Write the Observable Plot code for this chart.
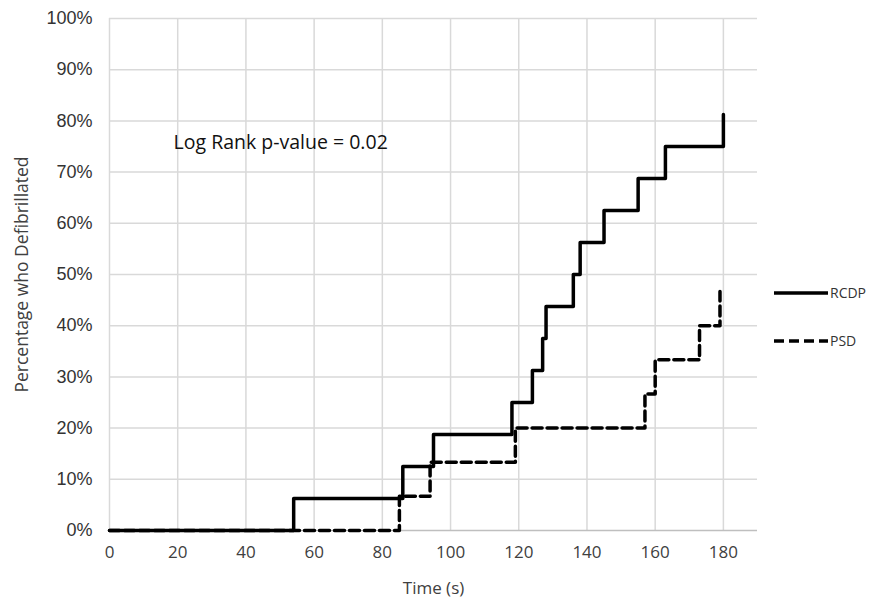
<!DOCTYPE html>
<html><head><meta charset="utf-8">
<script src="https://cdn.jsdelivr.net/npm/d3@7"></script>
<script src="https://cdn.jsdelivr.net/npm/@observablehq/plot@0.6"></script>
<style>
body{margin:0;background:#fff;}
#wrap{position:relative;width:875px;height:604px;overflow:hidden;}
#legend{position:absolute;left:773px;top:283px;font-family:"Open Sans",sans-serif;font-size:14px;color:#333;}
.row{display:flex;align-items:center;height:20px;margin-bottom:28px;}
.row svg{display:block;}
.row span{margin-left:1px;line-height:20px;}
</style></head><body><div id="wrap"><div id="chart"></div><div id="legend"></div></div>
<script>
const xTicks = [0, 20, 40, 60, 80, 100, 120, 140, 160, 180];
const yTicks = [0, 10, 20, 30, 40, 50, 60, 70, 80, 90, 100];
const seriesNames = ["RCDP", "PSD"];
const rcdpTime = [0, 54, 86, 95, 118, 124, 127, 128, 136, 138, 145, 155, 163, 180];
const rcdpPct  = [0, 6.25, 12.5, 18.75, 25, 31.25, 37.5, 43.75, 50, 56.25, 62.5, 68.75, 75, 81.25];
const psdTime  = [0, 85, 94, 119, 157, 160, 173, 179];
const psdPct   = [0, 6.67, 13.33, 20, 26.67, 33.33, 40, 46.67];
const annotation = "Log Rank p-value = 0.02";

const rcdp = rcdpTime.map((t, i) => ({t, p: rcdpPct[i], s: seriesNames[0]}));
const psd = psdTime.map((t, i) => ({t, p: psdPct[i], s: seriesNames[1]}));
const dash = "10,5";

const chart = Plot.plot({
  width: 875, height: 604,
  marginLeft: 109, marginRight: 118, marginTop: 18, marginBottom: 74,
  style: {fontFamily: "Open Sans", fontSize: "15px", color: "#404040", background: "#fff"},
  x: {domain: [0, 190]},
  y: {domain: [0, 100]},
  marks: [
    Plot.ruleX(xTicks, {stroke: "#d9d9d9", strokeWidth: 1.5}),
    Plot.ruleY(yTicks.filter(d => d > 0), {stroke: "#d9d9d9", strokeWidth: 1.5}),
    Plot.ruleY([0], {stroke: "#bfbfbf", strokeWidth: 1.5}),
    Plot.axisX({ticks: xTicks, tickSize: 0, tickPadding: 15, fontSize: 17, fill: "#404040",
      label: "Time (s)", labelAnchor: "center", labelArrow: "none", labelOffset: 63}),
    Plot.axisY({ticks: yTicks, tickSize: 0, tickPadding: 17, tickFormat: d => d + "%",
      fontSize: 18, fontFamily: "Liberation Sans", fill: "#333", label: null}),
    Plot.axisY({ticks: [], tickSize: 0, fontSize: 17.5, fill: "#404040",
      label: "Percentage who Defibrillated", labelAnchor: "center", labelArrow: "none", labelOffset: 94}),
    Plot.line(psd, {x: "t", y: "p", curve: "step-after", stroke: "#000", strokeWidth: 3.5, strokeDasharray: dash}),
    Plot.line(rcdp, {x: "t", y: "p", curve: "step-after", stroke: "#000", strokeWidth: 3.5}),
    Plot.text([annotation], {x: 18.8, y: 75.8, text: d => d, textAnchor: "start", fontSize: 19.5, fill: "#111"})
  ]
});
document.getElementById("chart").appendChild(chart);

const legend = document.getElementById("legend");
seriesNames.forEach((name, i) => {
  const row = document.createElement("div");
  row.className = "row";
  row.innerHTML = `<svg width="56" height="20"><line x1="1" y1="10" x2="55" y2="10" stroke="#000" stroke-width="3.5" ${i === 1 ? `stroke-dasharray="${dash}"` : ""}/></svg><span>${name}</span>`;
  legend.appendChild(row);
});
</script>
</body></html>
